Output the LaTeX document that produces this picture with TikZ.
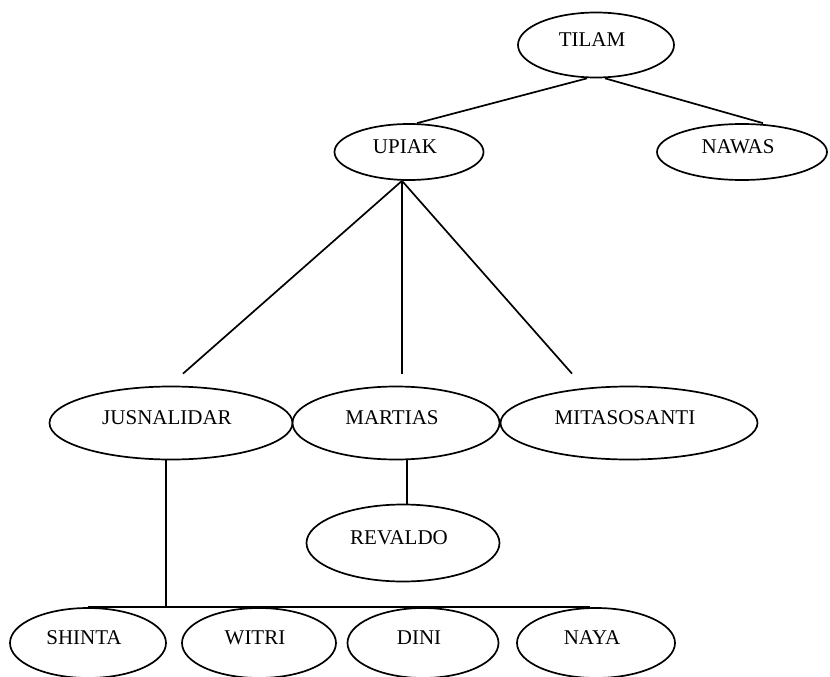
\documentclass[tikz,border=0pt]{standalone}
\usepackage{fontspec}
\setmainfont{Liberation Serif}
\usetikzlibrary{shapes}
\newcommand{\famperson}[5]{
	\node [person, minimum width=#4, minimum height=#5] (#1) at (#2) {};
	\node [famname] (#1-name) at ([xshift=-4pt,yshift=5pt]#1.center) {#3};}

\begin{document}
\begin{tikzpicture}[x=1pt,y=-1pt,line width=1.7pt,
	person/.style={draw, ellipse, fill=white, inner sep=0pt},
	famname/.style={font=\fontsize{21}{24}\selectfont, inner sep=0pt}]
	\useasboundingbox (0,0) rectangle (830,677);
	\famperson{tilam}{596,45}{TILAM}{156pt}{65pt}
	\famperson{upiak}{409,152}{UPIAK}{149pt}{56pt}
	\famperson{nawas}{742,152}{NAWAS}{170pt}{56pt}
	\famperson{jus}{171,423}{JUSNALIDAR}{243pt}{73pt}
	\famperson{martias}{396,423}{MARTIAS}{207pt}{73pt}
	\famperson{mitas}{629,423}{MITASOSANTI}{257pt}{73pt}
	\famperson{revaldo}{403,543}{REVALDO}{193pt}{77pt}
	\famperson{shinta}{88,643}{SHINTA}{156pt}{70pt}
	\famperson{witri}{259,643}{WITRI}{154pt}{70pt}
	\famperson{dini}{423,643}{DINI}{151pt}{70pt}
	\famperson{naya}{596,643}{NAYA}{158pt}{70pt}
	% tilam's children
	\draw ([xshift=-9pt]tilam.south) -- ([xshift=8pt]upiak.north);
	\draw ([xshift=9pt]tilam.south) -- ([xshift=21pt]nawas.north);
	% upiak's children
	\draw ([xshift=-7pt]upiak.south) -- ([xshift=12pt,yshift=12pt]jus.north);
	\draw ([xshift=-7pt]upiak.south) -- ([xshift=6pt,yshift=12pt]martias.north);
	\draw ([xshift=-7pt]upiak.south) -- ([xshift=-57pt,yshift=12pt]mitas.north);
	% martias and jusnalidar
	\draw ([xshift=11pt]martias.south) -- ([xshift=11pt]martias.south |- revaldo.north);
	\draw ([xshift=-5pt]jus.south) -- ([xshift=-5pt]jus.south |- shinta.north);
	\draw (shinta.north) -- ([xshift=-6pt]naya.north);
\end{tikzpicture}
\end{document}
